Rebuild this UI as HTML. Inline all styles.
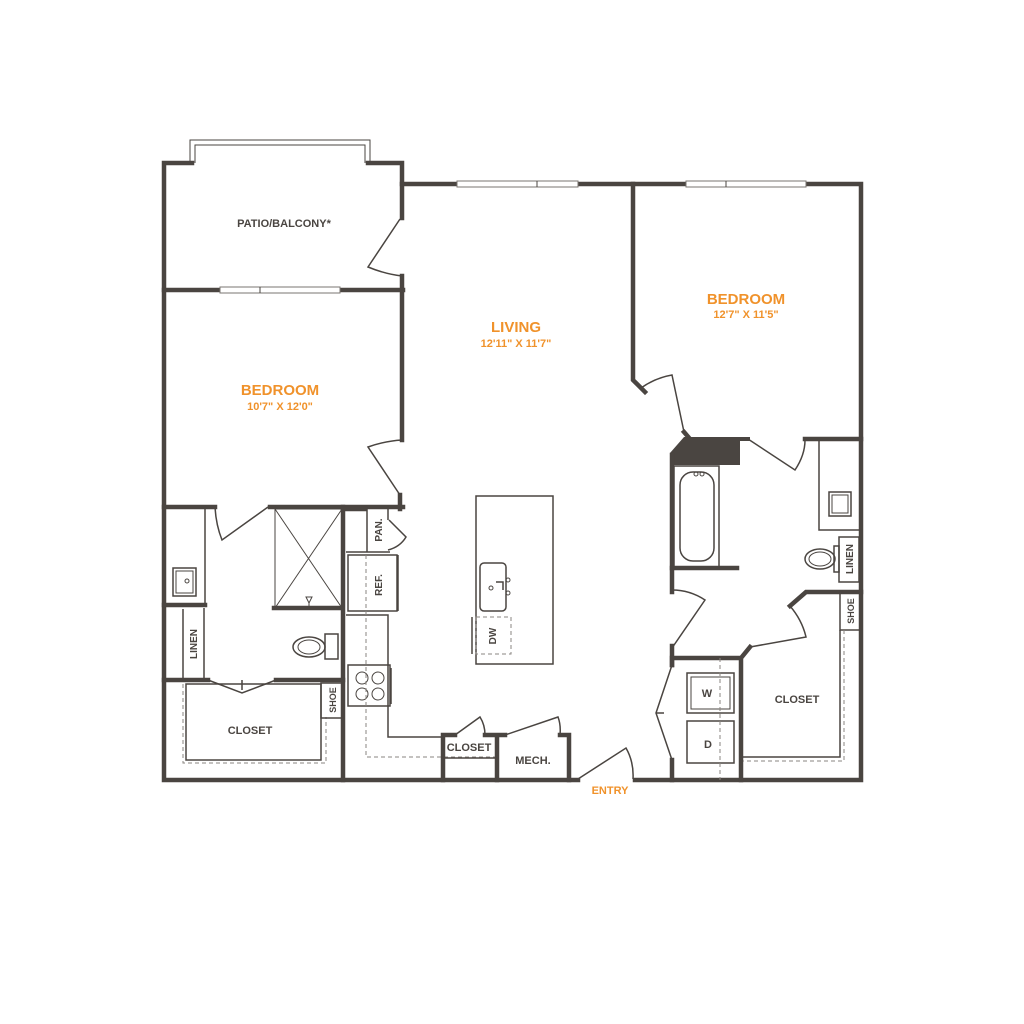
<!DOCTYPE html>
<html><head><meta charset="utf-8"><style>
html,body{margin:0;padding:0;background:#fff;}
svg{display:block;}
.w{stroke:#4a4541;stroke-width:4.5;fill:none;stroke-linecap:square;}
.t{stroke:#4a4541;stroke-width:1.5;fill:none;}
.h{stroke:#4a4541;stroke-width:1;fill:none;}
.d{stroke:#8a8580;stroke-width:1;fill:none;stroke-dasharray:4 3;}
.win{fill:#fff;stroke:#7a7570;stroke-width:1;}
text{font-family:"Liberation Sans",sans-serif;font-weight:bold;}
.o{fill:#f0922b;}
.g{fill:#4a4541;}
</style></head><body>
<svg width="1024" height="1024" viewBox="0 0 1024 1024" xmlns="http://www.w3.org/2000/svg">
<rect width="1024" height="1024" fill="#fff"/>
<!-- balcony rail -->
<path class="h" d="M190 163 V140 H370 V163 M195 163 V145 H365 V163" stroke="#888"/>
<!-- outer walls -->
<path class="w" d="M192 163 H164 V780 H578 M635 780 H861 V184 H402"/>
<path class="w" d="M368 163 H402 V218 M402 276 V440 M400 495 V509"/>
<!-- windows -->
<rect class="win" x="457" y="181" width="121" height="6"/><line class="h" x1="537" y1="181" x2="537" y2="187"/>
<rect class="win" x="686" y="181" width="120" height="6"/><line class="h" x1="726" y1="181" x2="726" y2="187"/>
<path class="w" d="M164 290 H403"/>
<rect class="win" x="220" y="287" width="120" height="6"/><line class="h" x1="260" y1="287" x2="260" y2="293"/>
<!-- patio door -->
<path class="t" d="M400 219 L368 267 Q385 274 402 276"/>
<!-- bedroom L door -->
<path class="t" d="M402 440 Q385 441 368 447 L400 495"/>
<!-- bedroom L bottom -->
<path class="w" d="M164 507 H215 M270 507 H403"/>
<path class="t" d="M215 507 Q216 525 222 540 L268 507"/>
<!-- shower -->
<rect class="h" x="275" y="509" width="67" height="99"/>
<path class="h" d="M275 509 L342 608 M342 509 L275 608"/>
<path class="h" d="M306 597 L312 597 L309 603 Z M309 603 V608"/>
<path class="w" d="M274 608 H343 M343 507 V780"/>
<!-- left vanity -->
<path class="t" d="M205 509 V605"/>
<path class="w" d="M164 605 H205"/>
<rect class="t" x="173" y="568" width="23" height="28"/>
<rect class="h" x="176" y="571" width="17" height="22"/>
<circle class="h" cx="187" cy="581" r="2"/>
<!-- linen left -->
<path class="t" d="M183 609 V680 M204 608 V680"/>
<text class="g" font-size="10" transform="translate(197,644) rotate(-90)" text-anchor="middle">LINEN</text>
<!-- toilet L -->
<rect class="t" x="325" y="634" width="13" height="25"/>
<ellipse class="t" cx="309" cy="647" rx="16" ry="10"/>
<ellipse class="h" cx="309" cy="647" rx="11" ry="7"/>
<!-- closet wall -->
<path class="w" d="M164 680 H208 M276 680 H343"/>
<path class="t" d="M208 680 L242 693 L276 680 M242 690 V680"/>
<rect class="t" x="186" y="684" width="135" height="76"/>
<path class="d" d="M183 684 V763 H326 V717"/>
<rect class="t" x="321" y="683" width="22" height="35"/>
<text class="g" font-size="9" transform="translate(336,700) rotate(-90)" text-anchor="middle">SHOE</text>
<text class="g" font-size="11" x="250" y="734" text-anchor="middle">CLOSET</text>
<!-- kitchen -->
<path class="w" d="M343 509 H365"/>
<path class="t" d="M367 509 V552 M346 552 H390 M388 509 V520"/>
<path class="t" d="M389 520 L406 537 Q400 547 388 550"/>
<text class="g" font-size="10" transform="translate(382,530) rotate(-90)" text-anchor="middle">PAN.</text>
<rect class="t" x="348" y="555" width="49" height="56"/>
<path class="t" d="M398 555 V611"/>
<text class="g" font-size="10" transform="translate(382,585) rotate(-90)" text-anchor="middle">REF.</text>
<path class="t" d="M346 615 H388 V737 H443"/>
<rect class="t" x="348" y="665" width="42" height="41"/>
<path class="t" d="M391 668 V704"/>
<circle class="h" cx="362" cy="678" r="6"/><circle class="h" cx="378" cy="678" r="6"/>
<circle class="h" cx="362" cy="694" r="6"/><circle class="h" cx="378" cy="694" r="6"/>
<path class="d" d="M366 555 V757 H495"/>
<!-- small closet & mech -->
<path class="w" d="M443 780 V735 H455 M485 735 H505 M497 735 V780 M560 735 H569 V780"/>
<path class="t" d="M455 735 L480 717 Q485 725 485 735"/>
<path class="t" d="M505 735 L558 717 Q561 725 560 735"/>
<path class="t" d="M443 758 H497"/>
<text class="g" font-size="11" x="469" y="751" text-anchor="middle">CLOSET</text>
<text class="g" font-size="11" x="533" y="764" text-anchor="middle">MECH.</text>
<!-- entry door -->
<path class="t" d="M578 779 L626 748 Q634 762 633 779"/>
<text class="o" font-size="11" x="610" y="794" text-anchor="middle">ENTRY</text>
<!-- island -->
<rect class="t" x="476" y="496" width="77" height="168"/>
<rect class="t" x="480" y="563" width="26" height="48" rx="4"/>
<path class="t" d="M496 582 H503 V590"/>
<circle class="h" cx="508" cy="580" r="2"/><circle class="h" cx="508" cy="593" r="2"/><circle class="h" cx="491" cy="588" r="2"/>
<rect class="d" x="476" y="617" width="35" height="37" stroke="#4a4541"/>
<path class="t" d="M472 617 V654"/>
<text class="g" font-size="10" transform="translate(496,636) rotate(-90)" text-anchor="middle">DW</text>
<!-- right bedroom -->
<path class="w" d="M633 184 V380 L645 392"/>
<path class="t" d="M641 388 Q655 378 672 375 L684 432"/>
<path class="w" d="M684 432 L690 439"/>
<polygon fill="#4a4541" points="684,437 750,437 750,441 740,441 740,465 670,465 670,453"/>
<path class="t" d="M748 439 L795 470 Q805 455 805 440"/>
<path class="w" d="M805 439 H861"/>
<!-- bath -->
<path class="w" d="M672 455 V592 M672 646 V665 M672 760 V780"/>
<rect class="t" x="674" y="466" width="45" height="101"/>
<rect class="t" x="680" y="472" width="34" height="89" rx="13"/>
<circle class="h" cx="696" cy="474" r="2"/><circle class="h" cx="702" cy="474" r="2"/>
<path class="w" d="M672 568 H737"/>
<path class="t" d="M672 590 Q690 590 705 600 L672 648"/>
<!-- right vanity -->
<path class="t" d="M819 441 V530 H861"/>
<rect class="t" x="829" y="492" width="22" height="24"/>
<rect class="h" x="832" y="495" width="16" height="18"/>
<rect class="t" x="839" y="537" width="20" height="45"/>
<text class="g" font-size="10" transform="translate(853,559) rotate(-90)" text-anchor="middle">LINEN</text>
<rect class="t" x="834" y="546" width="5" height="26"/>
<ellipse class="t" cx="820" cy="559" rx="15" ry="10"/>
<ellipse class="h" cx="820" cy="559" rx="11" ry="7"/>
<!-- closet right -->
<path class="w" d="M861 592 H806 L790 606"/>
<path class="t" d="M790 606 Q802 620 806 637 L750 647"/>
<path class="w" d="M750 647 L741 658 H672 M741 658 V780 M672 658 V665"/>
<rect class="t" x="840" y="592" width="21" height="38"/>
<text class="g" font-size="9" transform="translate(854,611) rotate(-90)" text-anchor="middle">SHOE</text>
<path class="t" d="M743 757 H840 V630"/>
<path class="d" d="M844 630 V761 H743"/>
<text class="g" font-size="11" x="797" y="703" text-anchor="middle">CLOSET</text>
<!-- laundry -->
<path class="t" d="M672 665 L656 713 L672 760 M656 713 H664"/>
<rect class="t" x="687" y="673" width="47" height="40"/>
<rect class="h" x="691" y="677" width="39" height="32"/>
<rect class="t" x="687" y="721" width="47" height="42"/>
<path class="d" d="M720 658 V780"/>
<text class="g" font-size="11" x="707" y="697" text-anchor="middle">W</text>
<text class="g" font-size="11" x="708" y="748" text-anchor="middle">D</text>
<!-- labels -->
<text class="g" font-size="11" x="284" y="227" text-anchor="middle">PATIO/BALCONY*</text>
<text class="o" font-size="15" x="280" y="395" text-anchor="middle">BEDROOM</text>
<text class="o" font-size="11" x="280" y="410" text-anchor="middle">10'7" X 12'0"</text>
<text class="o" font-size="15" x="516" y="332" text-anchor="middle">LIVING</text>
<text class="o" font-size="11" x="516" y="347" text-anchor="middle">12'11" X 11'7"</text>
<text class="o" font-size="15" x="746" y="304" text-anchor="middle">BEDROOM</text>
<text class="o" font-size="11" x="746" y="318" text-anchor="middle">12'7" X 11'5"</text>
</svg>
</body></html>
